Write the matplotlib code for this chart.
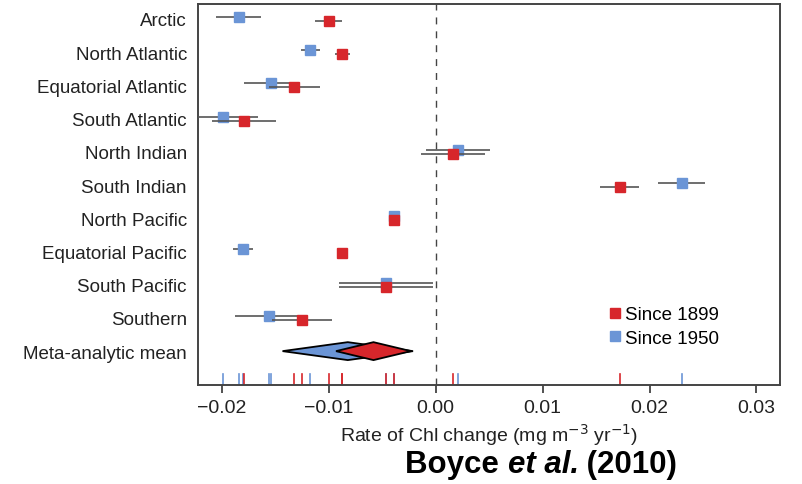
import numpy as np
import matplotlib.pyplot as plt
from matplotlib.lines import Line2D

plt.rcParams['font.family'] = ['Liberation Sans', 'DejaVu Sans']

# regioes e estimativas de tendencia (mg m-3 yr-1)
regioes = ['Arctic', 'North Atlantic', 'Equatorial Atlantic', 'South Atlantic',
           'North Indian', 'South Indian', 'North Pacific', 'Equatorial Pacific',
           'South Pacific', 'Southern', 'Meta-analytic mean']

desde_1899 = [-0.0100, -0.0087, -0.0132, -0.0179, 0.0016, 0.0172,
              -0.0039, -0.0087, -0.0046, -0.0125]
erro_1899 = [0.0013, 0.0007, 0.0024, 0.0030, 0.0030, 0.0018,
             0.0001, 0.0004, 0.0044, 0.0028]

desde_1950 = [-0.0184, -0.0117, -0.0154, -0.0199, 0.0021, 0.0230,
              -0.0039, -0.0180, -0.0046, -0.0156]
erro_1950 = [0.0021, 0.0009, 0.0025, 0.0033, 0.0030, 0.0022,
             0.0001, 0.0009, 0.0044, 0.0031]

# media meta-analitica: centro e meia largura do losango
meta_1899 = -0.0058
meta_1899_ic = 0.0035
meta_1950 = -0.0082
meta_1950_ic = 0.0061

vermelho = '#d7262b'
azul = '#6b95d6'
cinza = '#555555'

fig = plt.figure(figsize=(8.02, 4.85), dpi=100)
ax = fig.add_axes([0.2469, 0.2041, 0.7257, 0.7856])

y = np.arange(len(desde_1899))

ax.axvline(0, color='#444444', lw=1.0, ls=(0, (5, 5)), zorder=1)

ax.errorbar(desde_1950, y - 0.06, xerr=erro_1950, fmt='s', color=azul,
            ms=7, ecolor=cinza, elinewidth=1.2, capsize=0, zorder=3)
ax.errorbar(desde_1899, y + 0.06, xerr=erro_1899, fmt='s', color=vermelho,
            ms=7, ecolor=cinza, elinewidth=1.2, capsize=0, zorder=4)

# losangos da media
ym = len(regioes) - 1
h = 0.27
for c, w, cor, z in [(meta_1950, meta_1950_ic, azul, 5), (meta_1899, meta_1899_ic, vermelho, 6)]:
    ax.fill([c - w, c, c + w, c], [ym, ym - h, ym, ym + h], facecolor=cor,
            edgecolor='black', lw=1.3, zorder=z)

# marcas na base do eixo
for vals, cor in [(desde_1950, azul), (desde_1899, vermelho)]:
    for v in vals:
        ax.plot([v, v], [10.98, 10.68], color=cor, lw=1.2, zorder=2)

ax.set_xlim(-0.0222, 0.0322)
ax.set_ylim(11.02, -0.45)
ax.set_xticks([-0.02, -0.01, 0.0, 0.01, 0.02, 0.03])
ax.set_xticklabels(['\u22120.02', '\u22120.01', '0.00', '0.01', '0.02', '0.03'])
ax.set_yticks(np.arange(len(regioes)))
ax.set_yticklabels(regioes)
ax.tick_params(axis='y', length=0, pad=8, labelsize=13.5, labelcolor='#222222')
ax.tick_params(axis='x', length=6, width=1.2, labelsize=14, labelcolor='#222222',
               color='#333333', pad=4)
for s in ax.spines.values():
    s.set_color('#444444')
    s.set_linewidth(1.4)

ax.set_xlabel('Rate of Chl change (mg m$^{-3}$ yr$^{-1}$)', fontsize=14,
              color='#222222', labelpad=4)

leg = [Line2D([], [], marker='s', ls='', color=vermelho, ms=6.5, label='Since 1899'),
       Line2D([], [], marker='s', ls='', color=azul, ms=6.5, label='Since 1950')]
ax.legend(handles=leg, loc='upper left', bbox_to_anchor=(0.70, 0.207), frameon=False,
          borderaxespad=0, borderpad=0, fontsize=13.5, handletextpad=0.05,
          labelspacing=0.35, handlelength=1.0)

# referencia
fig.canvas.draw()
r = fig.canvas.get_renderer()
x0 = 405 / 802
yb = 1 - 465 / 485
partes = [('Boyce ', 'normal'), ('et al.', 'italic'), (' (2010)', 'normal')]
for txt, estilo in partes:
    t = fig.text(x0, yb, txt, fontsize=22.5, fontweight='bold', style=estilo,
                 va='center', ha='left')
    bb = t.get_window_extent(renderer=r)
    x0 += bb.width / fig.bbox.width

fig.savefig('out.png', dpi=100)
